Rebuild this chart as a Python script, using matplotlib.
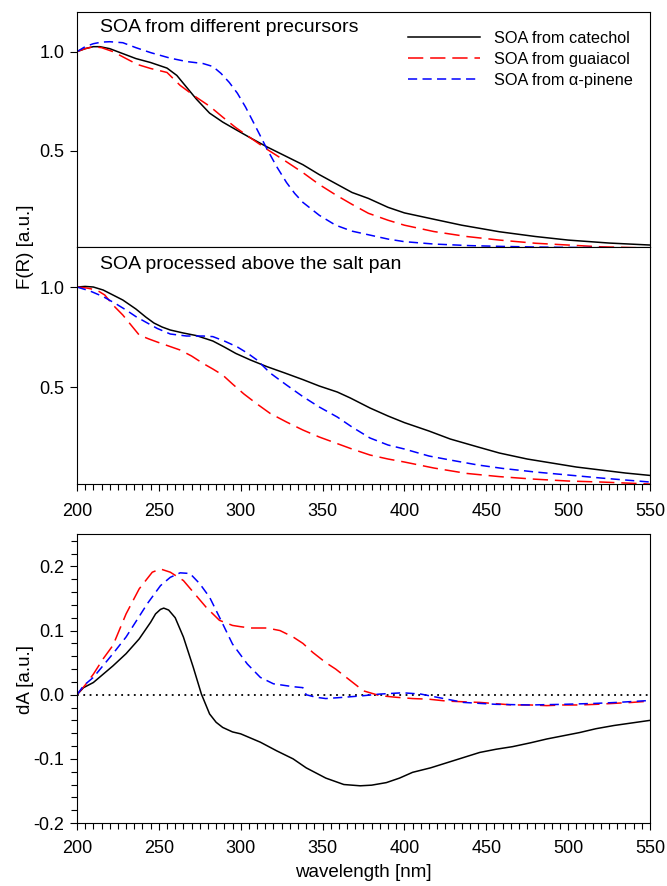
import matplotlib
matplotlib.use("Agg")
import matplotlib.pyplot as plt
from matplotlib.ticker import MultipleLocator, FixedLocator

plt.rcParams['font.family'] = ['Liberation Sans', 'DejaVu Sans']
plt.rcParams['axes.unicode_minus'] = False

# panel 1: SOA from different precursors
wl_cat1 = [200, 205, 210, 214, 220, 228, 236, 245, 255, 261, 267, 273, 281, 289, 297, 306, 316, 327,
           338, 348, 358, 368, 378, 390, 400, 418, 435, 458, 480, 500, 525, 550]
fr_cat1 = [1.0, 1.015, 1.025, 1.025, 1.015, 0.99, 0.965, 0.945, 0.917, 0.88, 0.82, 0.76, 0.69, 0.645,
           0.607, 0.565, 0.52, 0.475, 0.43, 0.38, 0.335, 0.29, 0.26, 0.215, 0.187, 0.155, 0.125, 0.092,
           0.068, 0.05, 0.035, 0.025]
wl_gua1 = [200, 205, 210, 215, 222, 230, 237, 245, 255, 263, 272, 281, 289, 297, 306, 316, 327, 338,
           348, 358, 368, 378, 390, 400, 418, 438, 458, 480, 500, 520, 540, 550]
fr_gua1 = [1.0, 1.015, 1.025, 1.02, 1.0, 0.965, 0.935, 0.915, 0.895, 0.83, 0.775, 0.725, 0.67, 0.617,
           0.565, 0.508, 0.45, 0.39, 0.33, 0.278, 0.23, 0.185, 0.15, 0.125, 0.093, 0.068, 0.05, 0.034,
           0.025, 0.016, 0.012, 0.01]
wl_pin1 = [200, 205, 210, 215, 220, 228, 236, 245, 257, 267, 277, 283, 288, 293, 298, 303, 308, 312,
           316, 322, 328, 333, 338, 348, 358, 368, 379, 390, 400, 418, 440, 460, 480, 500, 550]
fr_pin1 = [1.0, 1.025, 1.04, 1.048, 1.05, 1.045, 1.02, 0.995, 0.967, 0.95, 0.94, 0.925, 0.89, 0.845,
           0.79, 0.72, 0.64, 0.575, 0.51, 0.42, 0.34, 0.285, 0.24, 0.175, 0.125, 0.095, 0.075, 0.055,
           0.042, 0.03, 0.022, 0.018, 0.015, 0.013, 0.01]

# panel 2: SOA processed above the salt pan
wl_cat2 = [200, 205, 210, 216, 222, 228, 236, 242, 247, 252, 257, 265, 273, 283, 290, 297, 306, 316,
           327, 338, 348, 359, 367, 379, 390, 400, 415, 428, 445, 458, 475, 490, 505, 520, 535, 550]
fr_cat2 = [1.0, 1.003, 1.0, 0.985, 0.96, 0.935, 0.89, 0.85, 0.82, 0.8, 0.785, 0.77, 0.757, 0.73, 0.7,
           0.668, 0.635, 0.602, 0.57, 0.537, 0.505, 0.475, 0.445, 0.395, 0.355, 0.322, 0.28, 0.24, 0.2,
           0.17, 0.14, 0.12, 0.1, 0.085, 0.07, 0.058]
wl_gua2 = [200, 206, 212, 217, 222, 228, 233, 238, 244, 249, 256, 263, 270, 277, 283, 289, 295, 302,
           310, 318, 328, 338, 348, 358, 368, 379, 390, 400, 418, 438, 458, 478, 500, 520, 535, 550]
fr_gua2 = [1.0, 0.995, 0.985, 0.96, 0.91, 0.86, 0.81, 0.76, 0.74, 0.725, 0.705, 0.685, 0.655, 0.618,
           0.59, 0.56, 0.515, 0.465, 0.415, 0.368, 0.325, 0.285, 0.25, 0.22, 0.19, 0.16, 0.14, 0.125,
           0.095, 0.068, 0.052, 0.04, 0.03, 0.025, 0.02, 0.015]
wl_pin2 = [200, 208, 216, 224, 230, 236, 243, 249, 257, 267, 277, 283, 290, 298, 304, 310, 318, 328,
           338, 348, 359, 368, 379, 390, 400, 415, 428, 445, 460, 480, 500, 520, 535, 550]
fr_pin2 = [1.0, 0.98, 0.952, 0.915, 0.885, 0.852, 0.82, 0.793, 0.765, 0.755, 0.755, 0.752, 0.73, 0.7,
           0.67, 0.635, 0.57, 0.51, 0.452, 0.4, 0.35, 0.3, 0.245, 0.21, 0.19, 0.155, 0.135, 0.11, 0.093,
           0.075, 0.06, 0.045, 0.035, 0.025]

# panel 3: difference spectra
wl_cat3 = [200, 204, 210, 216, 222, 230, 238, 245, 248, 251, 253, 256, 260, 265, 271, 276, 281, 285,
           289, 295, 300, 312, 322, 332, 340, 352, 363, 373, 380, 389, 397, 405, 416, 426, 436, 446,
           456, 466, 477, 487, 497, 507, 517, 528, 539, 550]
da_cat3 = [0, 0.011, 0.019, 0.032, 0.045, 0.064, 0.087, 0.113, 0.126, 0.133, 0.135, 0.132, 0.12, 0.09,
           0.043, 0.001, -0.03, -0.043, -0.051, -0.058, -0.061, -0.074, -0.0875, -0.1, -0.114, -0.13,
           -0.14, -0.142, -0.141, -0.137, -0.13, -0.121, -0.114, -0.106, -0.098, -0.09, -0.085,
           -0.081, -0.075, -0.069, -0.064, -0.059, -0.053, -0.048, -0.044, -0.04]
wl_gua3 = [200, 205, 210, 216, 222, 230, 238, 246, 251, 257, 265, 271, 279, 287, 295, 300, 306, 316,
           324, 332, 338, 344, 352, 358, 363, 371, 375, 385, 395, 405, 415, 426, 436, 446, 456, 466,
           477, 487, 497, 507, 517, 528, 539, 550]
da_gua3 = [0, 0.015, 0.032, 0.056, 0.077, 0.126, 0.165, 0.191, 0.196, 0.191, 0.178, 0.16, 0.136, 0.116,
           0.108, 0.106, 0.104, 0.104, 0.1, 0.09, 0.08, 0.066, 0.05, 0.04, 0.03, 0.014, 0.006, -0.0015,
           -0.004, -0.006, -0.007, -0.01, -0.011, -0.012, -0.014, -0.016, -0.016, -0.017, -0.016,
           -0.016, -0.015, -0.0135, -0.012, -0.01]
wl_pin3 = [200, 204, 210, 222, 230, 243, 251, 257, 263, 269, 275, 281, 287, 295, 304, 312, 320, 332,
           338, 340, 346, 352, 363, 373, 385, 399, 410, 420, 436, 456, 477, 497, 517, 530, 550]
da_pin3 = [0, 0.014, 0.027, 0.064, 0.09, 0.142, 0.17, 0.183, 0.19, 0.189, 0.173, 0.152, 0.121, 0.079,
           0.048, 0.027, 0.017, 0.0125, 0.011, 0.0, -0.004, -0.006, -0.004, -0.002, 0.001, 0.003, 0.001,
           -0.004, -0.012, -0.015, -0.016, -0.015, -0.0135, -0.012, -0.009]

labels = ['SOA from catechol', 'SOA from guaiacol', 'SOA from α-pinene']
RED_DASH = (10, 4.5)
BLUE_DASH = (6, 3.5)
LW = 1.1

fig = plt.figure(figsize=(6.67, 8.86), dpi=100)
ax1 = fig.add_axes([0.1154, 0.7212, 0.8591, 0.2653])
ax2 = fig.add_axes([0.1154, 0.4537, 0.8591, 0.2675])
ax3 = fig.add_axes([0.1154, 0.0711, 0.8591, 0.3258])


def lines(ax, wc, yc, wg, yg, wp, yp):
    ax.plot(wc, yc, color='black', lw=LW, label=labels[0])
    ax.plot(wg, yg, color='red', lw=LW, dashes=RED_DASH, label=labels[1])
    ax.plot(wp, yp, color='blue', lw=LW, dashes=BLUE_DASH, label=labels[2])


lines(ax1, wl_cat1, fr_cat1, wl_gua1, fr_gua1, wl_pin1, fr_pin1)
lines(ax2, wl_cat2, fr_cat2, wl_gua2, fr_gua2, wl_pin2, fr_pin2)
ax3.axhline(0, color='black', lw=1.3, ls=(0, (1, 2.5)))
lines(ax3, wl_cat3, da_cat3, wl_gua3, da_gua3, wl_pin3, da_pin3)

for ax in (ax1, ax2, ax3):
    ax.set_xlim(200, 550)
    for s in ax.spines.values():
        s.set_linewidth(0.8)
    ax.tick_params(which='both', direction='out', labelsize=13, width=0.8, pad=4)
    ax.tick_params(which='major', length=5)
    ax.tick_params(which='minor', length=4)

for ax in (ax1, ax2):
    ax.set_ylim(0.015, 1.2)
    ax.yaxis.set_major_locator(FixedLocator([0.5, 1.0]))
    ax.set_yticklabels(['0.5', '1.0'])

ax1.tick_params(axis='x', which='both', bottom=False, labelbottom=False)
ax2.xaxis.set_major_locator(MultipleLocator(50))
ax2.xaxis.set_minor_locator(MultipleLocator(5))
ax2.tick_params(axis='x', pad=9)

ax3.set_ylim(-0.2, 0.25)
ax3.yaxis.set_major_locator(FixedLocator([-0.2, -0.1, 0.0, 0.1, 0.2]))
ax3.set_yticklabels(['-0.2', '-0.1', '0.0', '0.1', '0.2'])
ax3.yaxis.set_minor_locator(MultipleLocator(0.02))
ax3.xaxis.set_major_locator(MultipleLocator(50))
ax3.xaxis.set_minor_locator(MultipleLocator(5))
ax3.tick_params(axis='x', pad=7)
ax3.set_xlabel('wavelength [nm]', fontsize=13.5, labelpad=5)

ax1.text(0.04, 0.935, 'SOA from different precursors', transform=ax1.transAxes,
         fontsize=14, va='center', ha='left')
ax2.text(0.04, 0.928, 'SOA processed above the salt pan', transform=ax2.transAxes,
         fontsize=14, va='center', ha='left')

ax1.legend(loc='upper left', bbox_to_anchor=(0.578, 0.92), frameon=False, fontsize=11.7,
           handlelength=4.4, handletextpad=0.9, labelspacing=0.38, borderaxespad=0, borderpad=0)

fig.text(0.0375, 1 - 247 / 886, 'F(R) [a.u.]', rotation=90, fontsize=13.5, va='center', ha='center')
fig.text(0.0375, 1 - 679 / 886, 'dA [a.u.]', rotation=90, fontsize=13.5, va='center', ha='center')

fig.savefig('out.png', dpi=100)
